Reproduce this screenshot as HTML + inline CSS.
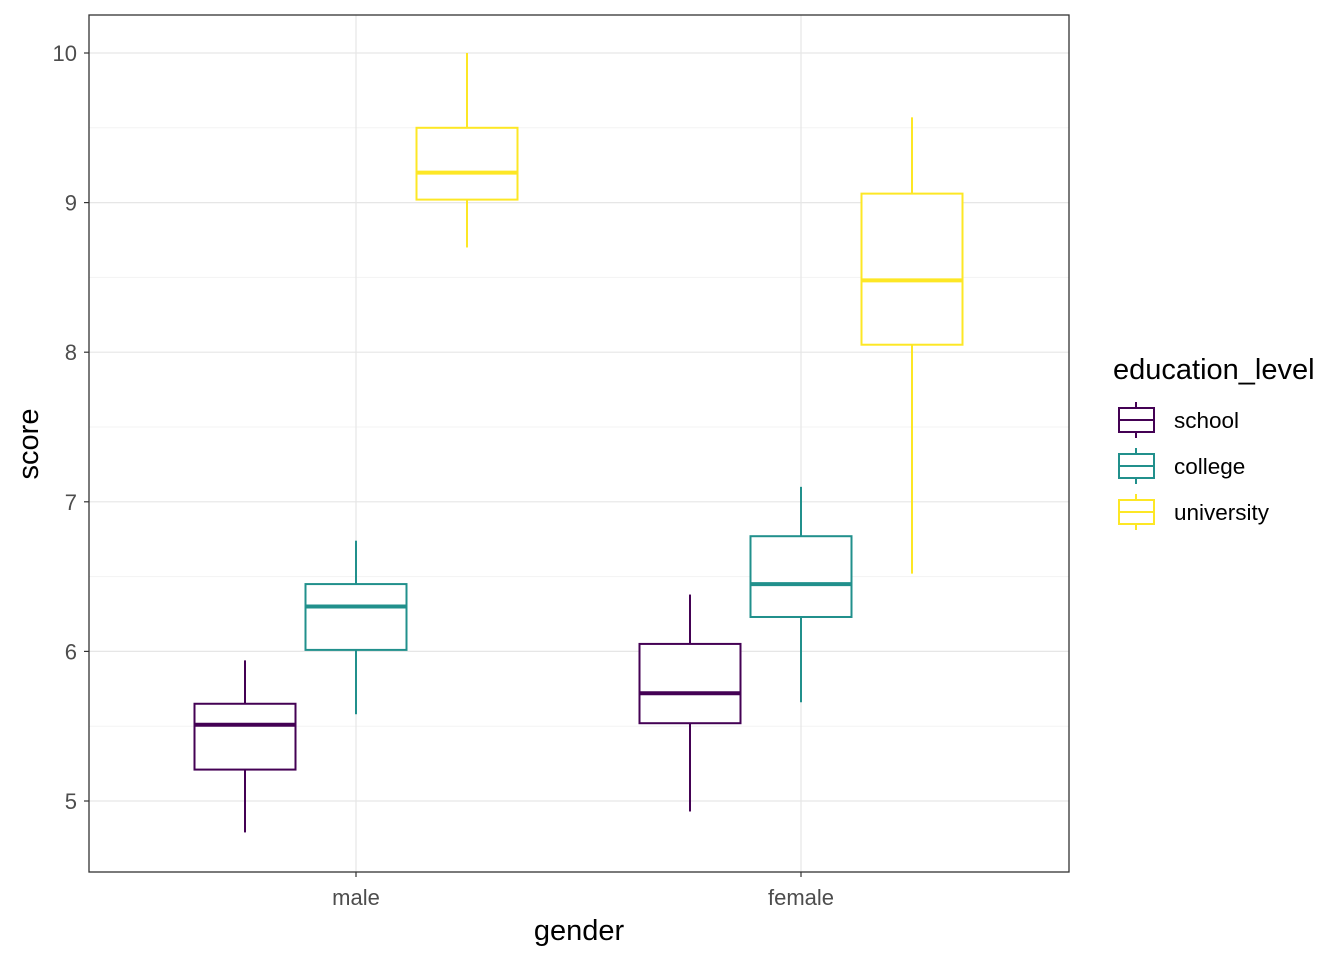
<!DOCTYPE html>
<html><head><meta charset="utf-8"><style>body{margin:0;background:#fff}svg{display:block;font-family:"Liberation Sans",Arial,sans-serif}</style></head>
<body>
<svg id="chart" width="1344" height="960"></svg>
<script>
const groups=["male","female"];
const levels=["school","college","university"];
const colors=["#440154","#21908C","#FDE725"];
const lowWhisker=[[4.79,5.58,8.70],[4.93,5.66,6.52]];
const q1=[[5.21,6.01,9.02],[5.52,6.23,8.05]];
const medians=[[5.51,6.30,9.20],[5.72,6.45,8.48]];
const q3=[[5.65,6.45,9.50],[6.05,6.77,9.06]];
const highWhisker=[[5.94,6.74,10.0],[6.38,7.10,9.57]];
const yTicks=[5,6,7,8,9,10];
const NS="http://www.w3.org/2000/svg";
const svg=document.getElementById('chart');
const L=89,R=1069,T=15,B=872;
const y=v=>801-(v-5)*149.6;
const xc=i=>356+i*445;
function el(t,a,p){const e=document.createElementNS(NS,t);for(const k in a)e.setAttribute(k,a[k]);(p||svg).appendChild(e);return e;}
const bg=el('rect',{x:L,y:T,width:R-L,height:B-T,fill:'#fff'});


for(let v=4.5;v<=10.5;v+=1){const yy=y(v);if(yy>T&&yy<B){const g=el('line',{x1:L,x2:R,y1:yy,y2:yy,stroke:'#f3f3f3','stroke-width':1});}}
yTicks.forEach(v=>{const yy=y(v);
const g=el('line',{x1:L,x2:R,y1:yy,y2:yy,stroke:'#e6e6e6','stroke-width':1.2});
const tk=el('line',{x1:L-5,x2:L,y1:yy,y2:yy,stroke:'#333','stroke-width':1.2});
const t=el('text',{x:L-12,y:yy+8,'text-anchor':'end','font-size':22,fill:'#4d4d4d'});t.textContent=v;});
groups.forEach((g,i)=>{const x=xc(i);
const gl=el('line',{x1:x,x2:x,y1:T,y2:B,stroke:'#e6e6e6','stroke-width':1.2});
const tk=el('line',{x1:x,x2:x,y1:B,y2:B+5,stroke:'#333','stroke-width':1.2});
const t=el('text',{x:x,y:905,'text-anchor':'middle','font-size':22,fill:'#4d4d4d'});t.textContent=g;
levels.forEach((lv,j)=>{const cx=x+(j-1)*111,w=101,c=colors[j];
const gr=el('g',{});
el('line',{x1:cx,x2:cx,y1:y(lowWhisker[i][j]),y2:y(q1[i][j]),stroke:c,'stroke-width':2},gr);
el('line',{x1:cx,x2:cx,y1:y(q3[i][j]),y2:y(highWhisker[i][j]),stroke:c,'stroke-width':2},gr);
el('rect',{x:cx-w/2,y:y(q3[i][j]),width:w,height:y(q1[i][j])-y(q3[i][j]),fill:'#fff',stroke:c,'stroke-width':2},gr);
el('line',{x1:cx-w/2,x2:cx+w/2,y1:y(medians[i][j]),y2:y(medians[i][j]),stroke:c,'stroke-width':4},gr);});});
const fr=el('rect',{x:L,y:T,width:R-L,height:B-T,fill:'none',stroke:'#333','stroke-width':1.3});
let t=el('text',{x:579,y:940,'text-anchor':'middle','font-size':29,fill:'#000'});t.textContent='gender';
t=el('text',{x:38,y:444,'text-anchor':'middle','font-size':29,fill:'#000',transform:'rotate(-90 38 444)'});t.textContent='score';
t=el('text',{x:1113,y:379,'font-size':29,fill:'#000'});t.textContent='education_level';
levels.forEach((lv,j)=>{const cy=420+j*46,c=colors[j];
const gr=el('g',{});
el('line',{x1:1136,x2:1136,y1:cy-18,y2:cy+18,stroke:c,'stroke-width':2},gr);
el('rect',{x:1119,y:cy-12,width:35,height:24,fill:'#fff',stroke:c,'stroke-width':2},gr);
el('line',{x1:1119,x2:1154,y1:cy,y2:cy,stroke:c,'stroke-width':2},gr);
const tx=el('text',{x:1174,y:cy+8,'font-size':22.5,fill:'#000'},gr);tx.textContent=lv;});
</script>
</body></html>
